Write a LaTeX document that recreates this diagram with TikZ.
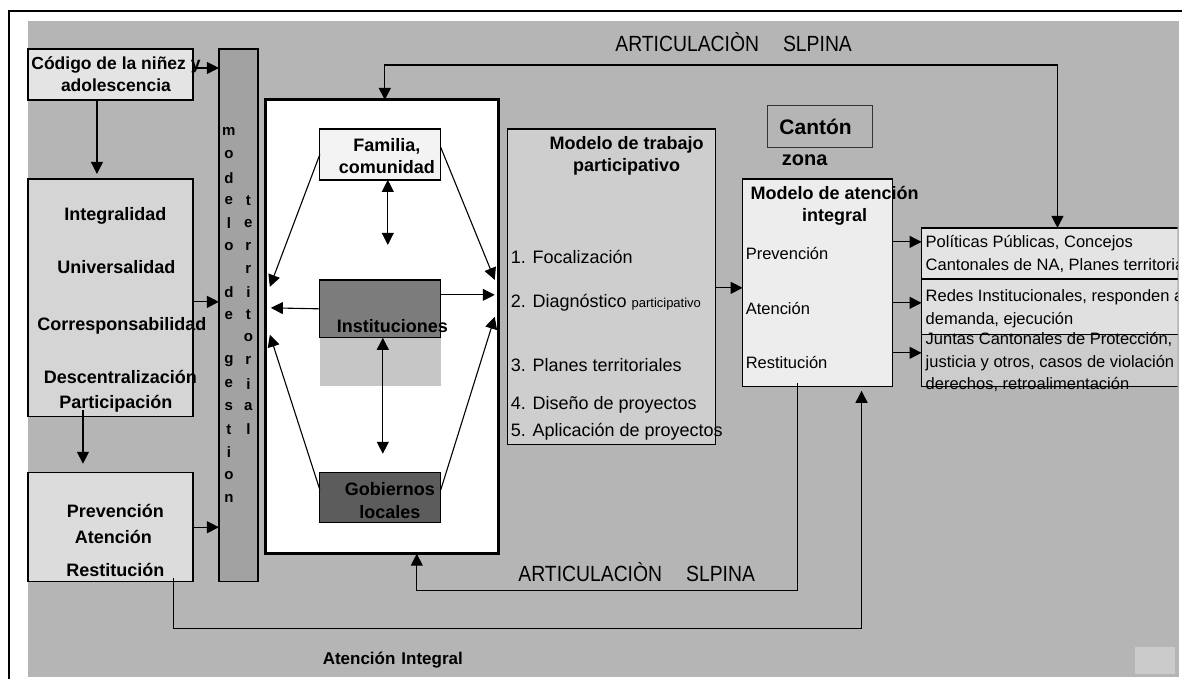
\documentclass[tikz,border=0pt]{standalone}
\usepackage{fontspec}
\setmainfont{Liberation Sans}
\newfontfamily\narrowf[FakeStretch=0.88]{Liberation Sans}
\usetikzlibrary{arrows.meta,calc}
\definecolor{bgg}{HTML}{B5B5B5}
\definecolor{codf}{HTML}{E4E4E4}
\definecolor{prinf}{HTML}{D5D5D5}
\definecolor{prevf}{HTML}{DCDCDC}
\definecolor{barf}{HTML}{A2A2A2}
\definecolor{famf}{HTML}{F3F3F3}
\definecolor{instf}{HTML}{7C7C7C}
\definecolor{gobf}{HTML}{5C5C5C}
\definecolor{texf}{HTML}{C6C6C6}
\definecolor{trabf}{HTML}{CECECE}
\definecolor{atenf}{HTML}{EDEDED}
\definecolor{polf}{HTML}{E4E4E4}
\definecolor{redf}{HTML}{E0E0E0}
\definecolor{junf}{HTML}{CCCCCC}
\definecolor{sqf}{HTML}{CBCBCB}
\newcommand{\myB}[2]{\rmfamily\bfseries\fontsize{#1}{#2}\selectfont}
\newcommand{\myN}[2]{\rmfamily\fontsize{#1}{#2}\selectfont}
\tikzset{
  box/.style={draw=black, line width=1.3pt, inner sep=0pt, outer sep=0pt},
  bigtri/.tip={Triangle[length=12pt,width=12pt]},
  arr/.style={line width=1.1pt,-bigtri},
  dbl/.style={line width=1.1pt,bigtri-bigtri},
  blbl/.style={inner sep=0pt, align=center, font={\myB{18}{22}}},
  nlbl/.style={inner sep=0pt, anchor=west, font={\myN{18}{22}}},
  rlbl/.style={inner sep=0pt, anchor=west, font={\myN{16.5}{20}}},
  barl/.style={inner sep=0pt, font={\myB{15}{15}}},
  artl/.style={inner sep=0pt, font={\narrowf\fontsize{22}{22}\selectfont}},
}
\begin{document}
\begin{tikzpicture}[x=1pt,y=-1pt]
% page and background
\fill[white] (0,0) rectangle (1183,679);
\fill[bgg] (28,21) rectangle (1180,677);
\draw[line width=1.2pt] (9,679) -- (9,11) -- (1183,11);

% left column boxes
\node[box, fill=codf, minimum width=165, minimum height=51] (codigo) at (110.5,74.5) {};
\node[box, fill=prinf, minimum width=165, minimum height=238] (principios) at (110.5,298) {};
\node[box, fill=prevf, minimum width=165, minimum height=109] (prevbox) at (110.5,527.5) {};
\node[box, fill=barf, minimum width=39, minimum height=533] (bar) at (238.5,315.5) {};

% inner white box and its content
\node[box, fill=white, line width=3pt, minimum width=233, minimum height=454] (inner) at (382.5,327) {};
\node[box, fill=famf, minimum width=121, minimum height=51] (familia) at (380.5,154.5) {};
\node[box, fill=instf, minimum width=121, minimum height=58] (inst) at (380.5,309) {};
\node[fill=texf, inner sep=0pt, minimum width=121, minimum height=48] (tex) at (380.5,362) {};
\node[box, fill=gobf, minimum width=121, minimum height=50] (gob) at (380.5,498) {};

% middle and right boxes
\node[box, fill=trabf, minimum width=208, minimum height=316] (trabajo) at (612,287) {};
\node[box, draw=black!80, line width=1pt, minimum width=105, minimum height=42] (canton) at (820.5,127) {};
\node[box, fill=atenf, minimum width=150, minimum height=208] (atencion) at (818,283) {};
\node[fill=sqf, inner sep=0pt, minimum width=40, minimum height=27] (sq) at (1156,660.5) {};

\begin{scope}
\clip (0,0) rectangle (1178,679);
\node[box, fill=polf, minimum width=340, minimum height=51] (pol) at (1092,253.5) {};
\node[box, fill=redf, minimum width=340, minimum height=56] (redes) at (1092,307) {};
\node[box, fill=junf, minimum width=340, minimum height=52] (juntas) at (1092,361) {};
\node[rlbl] (tpol1) at (926,243) {Políticas Públicas, Concejos};
\node[rlbl] (tpol2) at (926,266) {Cantonales de NA, Planes territoriales};
\node[rlbl] (tred1) at (926,297) {Redes Institucionales, responden a};
\node[rlbl] (tred2) at (926,320) {demanda, ejecución};
\node[rlbl] (tjun1) at (926,340) {Juntas Cantonales de Protección,};
\node[rlbl] (tjun2) at (926,363) {justicia y otros, casos de violación};
\node[rlbl] (tjun3) at (926,385) {derechos, retroalimentación};
\draw[line width=1.3pt] (pol.north west) rectangle (pol.south east);
\draw[line width=1.3pt] (redes.north west) rectangle (redes.south east);
\draw[line width=1.3pt] (juntas.north west) rectangle (juntas.south east);
\end{scope}

% texts
\node[artl] (art1) at (734,42) {ARTICULACIÒN\hspace{24pt}SLPINA};
\node[artl] (art2) at (637,572) {ARTICULACIÒN\hspace{24pt}SLPINA};
\node[blbl, font={\myB{17}{22}}] (aint) at (393,660) {Atención\hspace{6pt}Integral};
\node[blbl, font={\myB{17.5}{22}}] (tcod) at (116,74) {Código de la niñez y\\adolescencia};
\node[blbl] (tp1) at (115.5,216) {Integralidad};
\node[blbl] (tp2) at (116.5,267) {Universalidad};
\node[blbl] (tp3) at (122,326) {Corresponsabilidad};
\node[blbl] (tp4) at (120.5,377) {Descentralización};
\node[blbl] (tp5) at (116,404) {Participación};
\node[blbl] (tv1) at (115.5,511) {Prevención};
\node[blbl] (tv2) at (113.5,537) {Atención};
\node[blbl] (tv3) at (115.5,570) {Restitución};
\node[blbl] (tfam) at (387,156) {Familia,\\comunidad};
\node[blbl] (tinst) at (392.5,326) {Instituciones};
\node[blbl, font={\myB{18}{23}}] (tgob) at (390,500.5) {Gobiernos\\locales};
\node[blbl] (ttrab) at (627,156) {Modelo de trabajo\\participativo};
\node[nlbl] (it1) at (511,257) {1. Focalización};
\node[nlbl] (it2) at (511,303) {2. Diagnóstico {\fontsize{13}{13}\selectfont participativo}};
\node[nlbl] (it3) at (511,365) {3. Planes territoriales};
\node[nlbl] (it4) at (511,405) {4. Diseño de proyectos};
\node[nlbl] (it5) at (511,432) {5. Aplicación de proyectos};
\node[blbl, font={\myB{21}{21}}] (tcan) at (816,127) {Cantón};
\node[blbl, font={\myB{20}{20}}] (tzona) at (805,160) {zona};
\node[blbl] (taten) at (835,206) {Modelo de atención\\integral};
\node[rlbl] (ta1) at (746,254) {Prevención};
\node[rlbl] (ta2) at (746,309) {Atención};
\node[rlbl] (ta3) at (746,363) {Restitución};

% vertical letters in the bar
\foreach \i/\l in {0/m,1/o,2/d,3/e,4/l,5/o,7/d,8/e,10/g,11/e,12/s,13/t,14/i,15/o,16/n}
  \node[barl] (ca\i) at (229,132+\i*22.9) {\l};
\foreach \i/\l in {3/t,4/e,5/r,6/r,7/i,8/t,9/o,10/r,11/i,12/a,13/l}
  \node[barl] (cb\i) at (248.5,132+\i*22.9) {\l};

% connectors, left column
\draw[arr] ([yshift=6.5pt]codigo.east) -- ([yshift=6.5pt]codigo.east -| bar.west);
\draw[arr, shorten >=5pt] ([xshift=-13.5pt]codigo.south) -- ([xshift=-13.5pt]codigo.south |- principios.north);
\draw[arr] ([yshift=-4pt]principios.east) -- ([yshift=-4pt]principios.east -| bar.west);
\coordinate (pa) at (83,410);
\draw[arr, shorten >=9pt] (pa) -- (pa |- prevbox.north);
\draw[arr] (prevbox.east) -- (prevbox.east -| bar.west);

% connectors inside the white box
\coordinate (fa) at (388,245);
\draw[dbl] (familia.south -| fa) -- (fa);
\draw[dbl, shorten >=19pt] ([xshift=2.5pt]inst.south) -- ([xshift=2.5pt]inst.south |- gob.north);
\coordinate (L1) at (270,287);
\coordinate (L2) at (271,308);
\coordinate (L3) at (270,335);
\coordinate (R1) at (495,280);
\coordinate (R2) at (495,295);
\coordinate (R3) at (495,317);
\draw[arr] (familia.west) -- (L1);
\draw[arr] (inst.west) -- (L2);
\draw[arr] ([yshift=8pt]gob.west) -- (L3);
\draw[arr] ([yshift=7pt]familia.east) -- (R1);
\draw[arr] ([yshift=14pt]inst.east) -- (R2);
\draw[arr] ([yshift=8pt]gob.east) -- (R3);

% connectors, right part
\draw[arr] ([yshift=-1pt]trabajo.east) -- ([yshift=-1pt]trabajo.east -| atencion.west);
\draw[arr] ([yshift=11.5pt]pol.west -| atencion.east) -- ([yshift=11.5pt]pol.west);
\draw[arr] ([yshift=4pt]redes.west -| atencion.east) -- ([yshift=4pt]redes.west);
\draw[arr] ([yshift=8pt]juntas.west -| atencion.east) -- ([yshift=8pt]juntas.west);

% loops
\coordinate (tl) at (385,65);
\coordinate (tr) at (1058,65);
\draw[dbl] (tl |- inner.north) -- (tl) -- (tr) -- (tr |- pol.north);
\coordinate (bl) at (417,591);
\coordinate (br) at (798,591);
\draw[arr] ([yshift=4pt]br |- atencion.south) -- (br) -- (bl) -- (bl |- inner.south);
\coordinate (cl) at (174,629);
\coordinate (cr) at (862,629);
\draw[arr, shorten >=4pt] ([yshift=4pt]cl |- prevbox.south) -- (cl) -- (cr) -- (cr |- atencion.south);
\end{tikzpicture}
\end{document}
